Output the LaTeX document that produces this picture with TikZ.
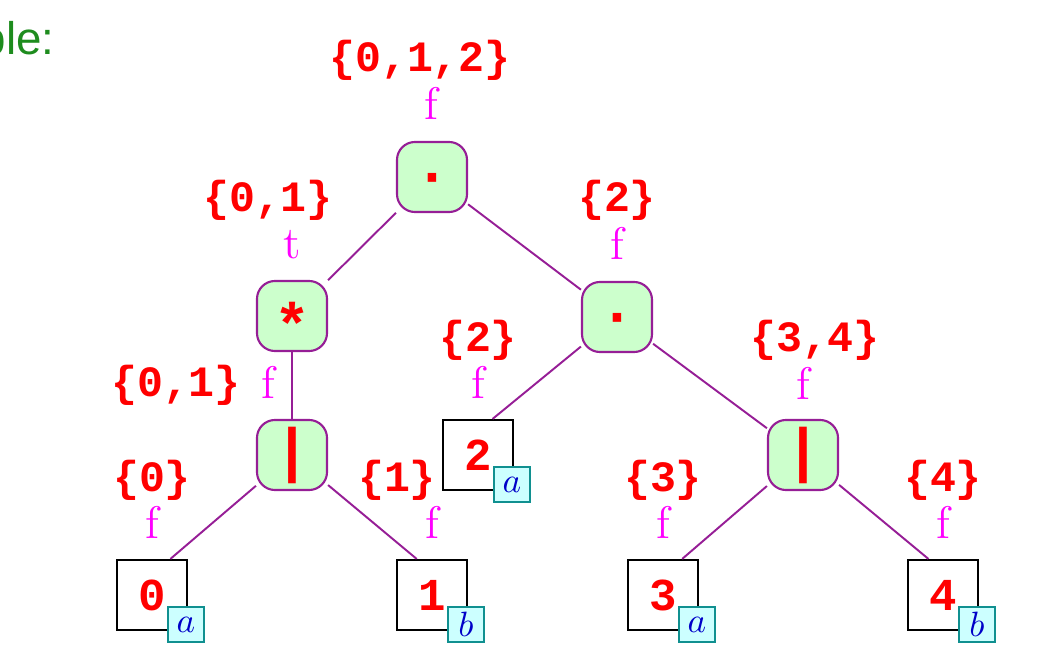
\documentclass[tikz,border=0pt]{standalone}
\usepackage{fontspec}
\newfontfamily\lblfont{Liberation Mono}
\newfontfamily\exfont{Liberation Sans}
\usetikzlibrary{calc}
\definecolor{opfill}{HTML}{CCFFCC}
\definecolor{edgecol}{RGB}{150,30,150}
\definecolor{subfill}{HTML}{CCFFFF}
\definecolor{subdraw}{RGB}{16,144,144}
\definecolor{exgreen}{RGB}{30,140,30}
\definecolor{letblue}{RGB}{0,0,200}
\definecolor{valcol}{RGB}{255,0,255}
\begin{document}
\begin{tikzpicture}[x=0.01cm,y=-0.01cm,
 opbox/.style={draw=edgecol, line width=0.6pt, fill=opfill, rounded corners=0.18cm,
   minimum width=0.7cm, minimum height=0.7cm, inner sep=0pt, text=red,
   font=\lblfont\bfseries\fontsize{17}{17}\selectfont},
 pipebox/.style={opbox, font=\lblfont\bfseries\fontsize{17}{17}\selectfont},
 leafbox/.style={draw=black, line width=0.6pt, fill=white, minimum size=0.7cm,
   inner sep=0pt, text=red, font=\lblfont\bfseries\fontsize{13}{13}\selectfont},
 subbox/.style={draw=subdraw, line width=0.6pt, fill=subfill, minimum width=0.36cm,
   minimum height=0.35cm, inner sep=0pt, text=letblue, font=\fontsize{10}{10}\selectfont},
 setlbl/.style={text=red, inner sep=0pt, font=\lblfont\bfseries\fontsize{12.3}{12.3}\selectfont},
 vallbl/.style={text=valcol, inner sep=0pt, font=\fontsize{13}{13}\selectfont},
 conn/.style={draw=edgecol, line width=0.55pt}
]
\path[use as bounding box, clip] (0,0) rectangle (1052,658);

\node[anchor=base east, inner sep=0pt, text=exgreen, font=\exfont\fontsize{13}{13}\selectfont] (ex) at (55,55) {ple:};

% operator nodes
\node[opbox] (root) at (432,177) {\raisebox{-0.3em}[0pt][0pt]{·}};
\node[opbox] (star) at (292,316) {\raisebox{-0.5em}[0pt][0pt]{*}};
\node[opbox] (dotR) at (617,317) {\raisebox{-0.3em}[0pt][0pt]{·}};
\node[pipebox] (pipeL) at (292,455) {|};
\node[pipebox] (pipeR) at (803,455) {|};

% leaves
\node[leafbox] (l0) at (152,595) {0};
\node[leafbox] (l1) at (432,595) {1};
\node[leafbox] (l2) at (478,455) {2};
\node[leafbox] (l3) at (663,595) {3};
\node[leafbox] (l4) at (943,595) {4};
\node[subbox] (s0) at ([shift={(34,29.5)}]l0.center) {$a$};
\node[subbox] (s1) at ([shift={(34,29.5)}]l1.center) {$b$};
\node[subbox] (s2) at ([shift={(34,29.5)}]l2.center) {$a$};
\node[subbox] (s3) at ([shift={(34,29.5)}]l3.center) {$a$};
\node[subbox] (s4) at ([shift={(34,29.5)}]l4.center) {$b$};

% labels
\node[setlbl] (setroot) at (420,60) {\{0,1,2\}};
\node[vallbl] (valroot) at (431,103) {f};
\node[setlbl] (setstar) at (268,200) {\{0,1\}};
\node[vallbl] (valstar) at (292,245) {t};
\node[setlbl] (setdotR) at (617,200) {\{2\}};
\node[vallbl] (valdotR) at (617,243) {f};
\node[setlbl] (setpipeL) at (176,385) {\{0,1\}};
\node[vallbl] (valpipeL) at (268,382) {f};
\node[setlbl] (setl2) at (478,340) {\{2\}};
\node[vallbl] (vall2) at (478,382) {f};
\node[setlbl] (setpipeR) at (815,340) {\{3,4\}};
\node[vallbl] (valpipeR) at (803,383) {f};
\node[setlbl] (setl0) at (152,480) {\{0\}};
\node[vallbl] (vall0) at (152,522) {f};
\node[setlbl] (setl1) at (397,480) {\{1\}};
\node[vallbl] (vall1) at (432,522) {f};
\node[setlbl] (setl3) at (663,480) {\{3\}};
\node[vallbl] (vall3) at (663,522) {f};
\node[setlbl] (setl4) at (943,480) {\{4\}};
\node[vallbl] (vall4) at (943,522) {f};

% connectors
\draw[conn] (root) -- (star);
\draw[conn] (root) -- (dotR);
\draw[conn] (star) -- (pipeL);
\draw[conn] (pipeL) -- (l0.63);
\draw[conn] (pipeL) -- (l1.113);
\draw[conn] (dotR) -- (l2.68);
\draw[conn] (dotR) -- (pipeR);
\draw[conn] (pipeR) -- (l3.62);
\draw[conn] (pipeR) -- (l4.112);
\end{tikzpicture}
\end{document}
